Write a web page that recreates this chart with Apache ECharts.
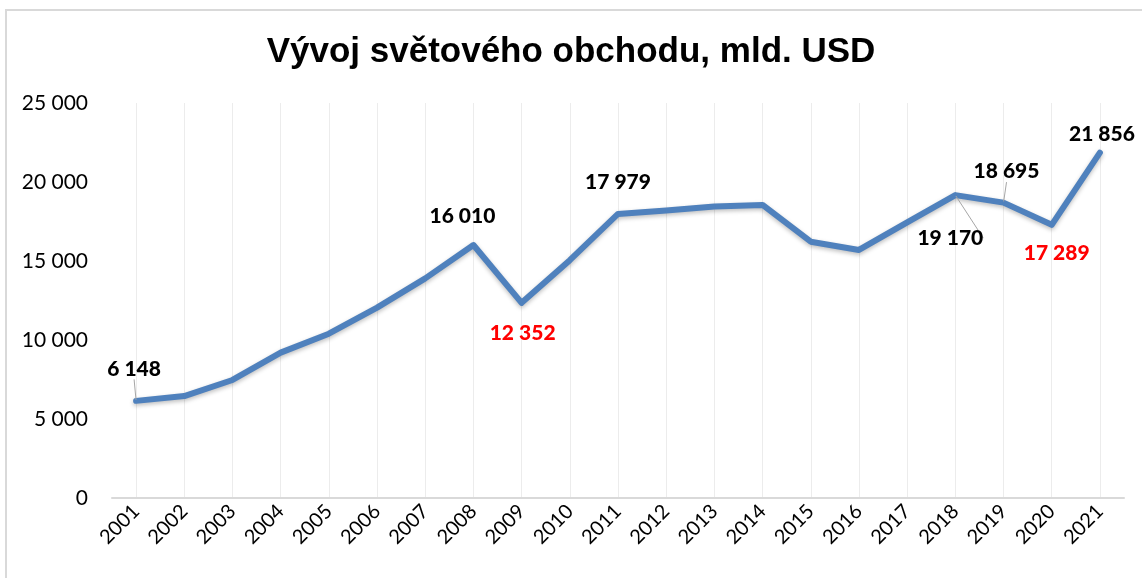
<!DOCTYPE html>
<html>
<head>
<meta charset="utf-8">
<script src="https://cdn.jsdelivr.net/npm/echarts@6/dist/echarts.min.js"></script>
<style>
  html, body { margin: 0; padding: 0; background: #fff; }
  #main { width: 1142px; height: 578px; }
</style>
</head>
<body>
<div id="main"></div>
<script>
var years = ['2001', '2002', '2003', '2004', '2005', '2006', '2007', '2008', '2009', '2010', '2011',
  '2012', '2013', '2014', '2015', '2016', '2017', '2018', '2019', '2020', '2021'];
var trade = [6148, 6450, 7470, 9200, 10400, 12050, 13900, 16010, 12352, 15050, 17979,
  18200, 18450, 18550, 16220, 15700, 17450, 19170, 18695, 17289, 21856];
var yTicks = [0, 5000, 10000, 15000, 20000, 25000];

// which points get a value label, and where it sits relative to the point
var labelled = {
  0: { offset: [-2, -32], line: true },
  7: { offset: [-11, -29] },
  8: { offset: [1, 30], red: true },
  10: { offset: [0, -32] },
  17: { offset: [-5, 43], line: true },
  18: { offset: [3, -31], line: true },
  19: { offset: [5, 28], red: true },
  20: { offset: [2, -18] }
};

function fmt(v) {
  return String(v).replace(/\B(?=(\d{3})+(?!\d))/g, ' ');
}

var seriesData = trade.map(function (v, i) {
  var l = labelled[i];
  if (!l) return { value: v };
  return {
    value: v,
    label: {
      show: true,
      position: 'inside',
      offset: l.offset,
      color: l.red ? '#ff0000' : '#000',
      fontWeight: 900,
      fontSize: 21,
      fontFamily: 'Lato'
    },
    labelLine: { show: !!l.line, lineStyle: { color: '#a6a6a6', width: 1 } }
  };
});

var myChart = echarts.init(document.getElementById('main'));
var option = {
  backgroundColor: '#fff',
  animation: false,
  title: {
    text: 'Vývoj světového obchodu, mld. USD',
    left: 'center',
    top: 30,
    textStyle: {
      fontFamily: 'Liberation Sans',
      fontWeight: 'bold',
      fontSize: 35,
      color: '#000'
    }
  },
  graphic: [{
    type: 'rect',
    shape: { x: 6, y: 10, width: 1300, height: 800 },
    style: { fill: 'none', stroke: '#d9d9d9', lineWidth: 2 },
    silent: true
  }],
  grid: { left: 112, right: 18, top: 103, bottom: 80 },
  xAxis: {
    type: 'category',
    data: years,
    boundaryGap: true,
    axisLine: { lineStyle: { color: '#d9d9d9', width: 2 } },
    axisTick: { show: false },
    axisLabel: {
      rotate: 45,
      margin: 10,
      fontSize: 20,
      fontFamily: 'Lato',
      color: '#000'
    },
    splitLine: {
      show: true,
      alignWithLabel: true,
      lineStyle: { color: '#ececec', width: 1 }
    }
  },
  yAxis: {
    type: 'value',
    min: yTicks[0],
    max: yTicks[yTicks.length - 1],
    interval: 5000,
    axisLine: { show: false },
    axisTick: { show: false },
    splitLine: { show: false },
    axisLabel: {
      margin: 24,
      fontSize: 21,
      fontFamily: 'Lato',
      color: '#000',
      formatter: function (v) { return fmt(v); }
    }
  },
  series: [{
    name: 'Světový obchod',
    type: 'line',
    data: seriesData,
    symbol: 'circle',
    symbolSize: 2,
    showSymbol: true,
    itemStyle: { color: '#4f81bd' },
    lineStyle: {
      color: '#4f81bd',
      width: 6,
      cap: 'round',
      join: 'round',
      shadowColor: 'rgba(0,0,0,0.25)',
      shadowBlur: 4,
      shadowOffsetY: 2
    },
    label: {
      show: false,
      formatter: function (p) { return fmt(p.value); }
    }
  }]
};
myChart.setOption(option);

window.addEventListener('resize', function () {
  myChart.resize();
});
</script>
</body>
</html>
